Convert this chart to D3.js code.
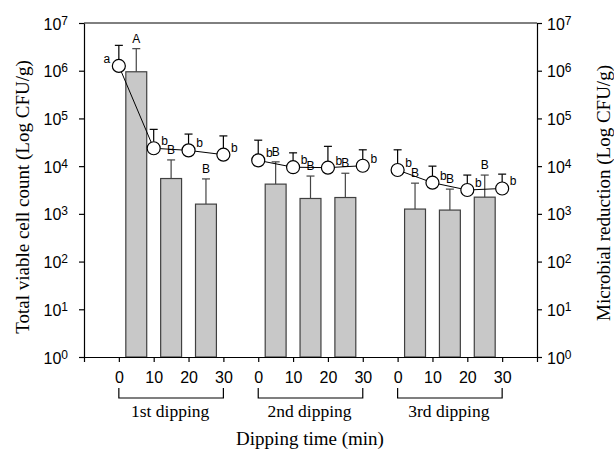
<!DOCTYPE html>
<html><head><meta charset="utf-8">
<script src="https://cdn.jsdelivr.net/npm/d3@7"></script>
<style>body{margin:0;background:#fff} text{fill:#000}</style>
</head><body><svg id="c" width="614" height="449"></svg>
<script>
const groups = ["1st dipping", "2nd dipping", "3rd dipping"];
const barTimes = [0, 10, 20];
const pointTimes = [0, 10, 20, 30];
const barValues = [[9.5e5, 5.5e3, 1.6e3], [4.2e3, 2.1e3, 2.2e3], [1.26e3, 1.2e3, 2.24e3]];
const barErrTop = [[2.9e6, 1.35e4, 5.4e3], [1.23e4, 6.2e3, 7.1e3], [4.4e3, 3.3e3, 6.5e3]];
const barLetters = [["A", "B", "B"], ["B", "B", "B"], ["B", "B", "B"]];
const pointValues = [[1.26e6, 2.37e4, 2.14e4, 1.74e4], [1.32e4, 9.5e3, 9.3e3, 1.02e4], [8.3e3, 4.5e3, 3.16e3, 3.4e3]];
const pointErrTop = [[3.4e6, 5.9e4, 4.7e4, 4.3e4], [3.5e4, 1.9e4, 2.6e4, 2.2e4], [2.2e4, 1.0e4, 6.5e3, 6.8e3]];
const pointLetters = [["a", "b", "b", "b"], ["b", "b", "b", "b"], ["b", "b", "b", "b"]];
const yTickValues = [1, 10, 100, 1e3, 1e4, 1e5, 1e6, 1e7];
const yTickExponents = ["0", "1", "2", "3", "4", "5", "6", "7"];
const xTickValues = [-10, 0, 10, 20, 30, 40, 50, 60, 70, 80, 90, 100, 110, 120];
const xTickLabels = ["", "0", "10", "20", "30", "0", "10", "20", "30", "0", "10", "20", "30", ""];
const groupOffset = [0, 40, 80];
const yTitleLeft = "Total viable cell count (Log CFU/g)";
const yTitleRight = "Microbial reduction (Log CFU/g)";
const xTitle = "Dipping time (min)";

const L = 84, R = 537, T = 23, B = 357;
const svg = d3.select("#c");
const x = d3.scaleLinear().domain([-10, 120]).range([L, R]);
const y = d3.scaleLog().domain([1, 1e7]).range([B, T]);
const sans = "'Liberation Sans', Arial, sans-serif";
const serif = "'Liberation Serif', 'Times New Roman', serif";

// bars
const barData = [];
groups.forEach((g, gi) => barTimes.forEach((t, i) => barData.push({
  pos: groupOffset[gi] + t, v: barValues[gi][i], e: barErrTop[gi][i], l: barLetters[gi][i]
})));
svg.append("g").selectAll("rect").data(barData).join("rect")
  .attr("x", d => x(d.pos + 2)).attr("width", d => x(d.pos + 8) - x(d.pos + 2))
  .attr("y", d => y(d.v)).attr("height", d => y(1) - y(d.v))
  .attr("fill", "#c8c8c8").attr("stroke", "#404040").attr("stroke-width", 1.2);

// axes
function yAxisText(gSel, side) {
  gSel.selectAll(".tick").each(function(d, i) {
    const t = d3.select(this).append("text")
      .attr("x", side === "left" ? -16 : 10).attr("y", 6)
      .attr("text-anchor", side === "left" ? "end" : "start")
      .attr("fill", "#000").style("font-family", sans).style("font-size", "16px");
    t.append("tspan").text("10");
    t.append("tspan").attr("dy", -5).style("font-size", "12px").text(yTickExponents[i]);
  });
}
const ax = d3.axisLeft(y).tickValues(yTickValues).tickFormat("").tickSize(5).tickSizeOuter(0);
const gl = svg.append("g").attr("transform", `translate(${L},0)`).call(ax);
yAxisText(gl, "left");
const axr = d3.axisRight(y).tickValues(yTickValues).tickFormat("").tickSize(5).tickSizeOuter(0);
const gr = svg.append("g").attr("transform", `translate(${R},0)`).call(axr);
yAxisText(gr, "right");
const axb = d3.axisBottom(x).tickValues(xTickValues).tickFormat((d, i) => xTickLabels[i]).tickSize(5).tickSizeOuter(0).tickPadding(10);
const gb = svg.append("g").attr("transform", `translate(0,${B})`).call(axb);
gb.selectAll("text").style("font-family", sans).style("font-size", "16px").attr("fill", "#000");
svg.append("line").attr("x1", L).attr("x2", R).attr("y1", T).attr("y2", T).attr("stroke", "#000");
svg.selectAll(".domain, .tick line").attr("stroke", "#000").attr("stroke-width", 1.2);

// bar error bars
const be = svg.append("g").attr("stroke", "#444").attr("stroke-width", 1.2);
barData.forEach(d => {
  const cx = x(d.pos + 5);
  be.append("line").attr("x1", cx).attr("x2", cx).attr("y1", y(d.v)).attr("y2", y(d.e));
  be.append("line").attr("x1", cx - 4).attr("x2", cx + 4).attr("y1", y(d.e)).attr("y2", y(d.e));
});
svg.append("g").selectAll("text").data(barData).join("text")
  .attr("x", d => x(d.pos + 5)).attr("y", d => y(d.e) - 6)
  .attr("text-anchor", "middle").attr("fill", "#000").style("font-family", sans).style("font-size", "12px").text(d => d.l);

// points
const r = 6.5;
groups.forEach((g, gi) => {
  const pts = pointTimes.map((t, i) => ({ pos: groupOffset[gi] + t, v: pointValues[gi][i], e: pointErrTop[gi][i], l: pointLetters[gi][i] }));
  svg.append("path").datum(pts)
    .attr("d", d3.line().x(d => x(d.pos)).y(d => y(d.v)))
    .attr("fill", "none").attr("stroke", "#000").attr("stroke-width", 1);
  const eg = svg.append("g").attr("stroke", "#000").attr("stroke-width", 1.2);
  pts.forEach(d => {
    const cx = x(d.pos);
    eg.append("line").attr("x1", cx).attr("x2", cx).attr("y1", y(d.v) - r).attr("y2", y(d.e));
    eg.append("line").attr("x1", cx - 4).attr("x2", cx + 4).attr("y1", y(d.e)).attr("y2", y(d.e));
  });
  svg.append("g").selectAll("circle").data(pts).join("circle")
    .attr("cx", d => x(d.pos)).attr("cy", d => y(d.v)).attr("r", r)
    .attr("fill", "#fff").attr("stroke", "#000").attr("stroke-width", 1.2);
  svg.append("g").selectAll("text").data(pts).join("text")
    .attr("x", d => x(d.pos) + (d.l === "a" ? -12 : 11)).attr("y", d => y(d.v) - 3)
    .attr("text-anchor", "middle").attr("fill", "#000").style("font-family", sans).style("font-size", "12px").text(d => d.l);
  // bracket
  const x0 = x(groupOffset[gi]), x1 = x(groupOffset[gi] + 30);
  svg.append("path").attr("d", `M${x0},388V398H${x1}V388`).attr("fill", "none").attr("stroke", "#000").attr("stroke-width", 1.2);
  svg.append("text").attr("x", (x0 + x1) / 2 - 1).attr("y", 417).attr("text-anchor", "middle").attr("fill", "#000")
    .style("font-family", serif).style("font-size", "17.5px").text(g);
});

// titles
svg.append("text").attr("transform", `translate(29,197) rotate(-90)`).attr("text-anchor", "middle").attr("fill", "#000")
  .style("font-family", serif).style("font-size", "19px").text(yTitleLeft);
svg.append("text").attr("transform", `translate(610,193) rotate(-90)`).attr("text-anchor", "middle").attr("fill", "#000")
  .style("font-family", serif).style("font-size", "19px").text(yTitleRight);
svg.append("text").attr("x", 310).attr("y", 445).attr("text-anchor", "middle").attr("fill", "#000")
  .style("font-family", serif).style("font-size", "19px").text(xTitle);
</script></body></html>
